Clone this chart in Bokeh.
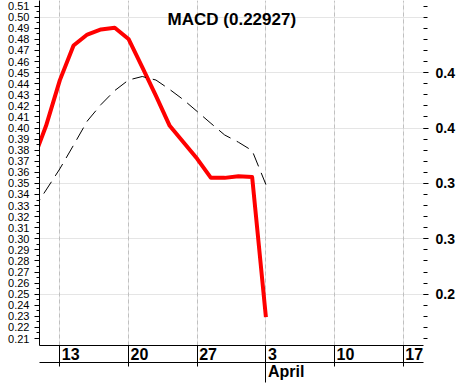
from bokeh.plotting import figure
from bokeh.models import Range1d, LinearAxis, FixedTicker, Grid, Label
from bokeh.embed import file_html
from bokeh.resources import INLINE

# ---- data ----
trading_days = ["Mar 9", "Mar 10", "Mar 13", "Mar 14", "Mar 15", "Mar 16", "Mar 17",
                "Mar 20", "Mar 21", "Mar 22", "Mar 23", "Mar 24", "Mar 27", "Mar 28",
                "Mar 29", "Mar 30", "Mar 31", "Apr 3"]
day_index = [-2, -1, 0, 1, 2, 3, 4, 5, 6, 7, 8, 9, 10, 11, 12, 13, 14, 15]
macd = [0.369, 0.402, 0.443, 0.4745, 0.4844, 0.489, 0.4905, 0.4804, 0.455, 0.429,
        0.402, 0.3872, 0.3722, 0.355, 0.355, 0.3565, 0.3557, 0.22927]
signal = [0.325, 0.344, 0.3631, 0.3845, 0.4063, 0.4212, 0.4338, 0.4433, 0.4465, 0.4433,
          0.4348, 0.4255, 0.4149, 0.4042, 0.3937, 0.3872, 0.3796, 0.349]
title_text = "MACD (0.22927)"

left_labels = ["0.21", "0.22", "0.23", "0.24", "0.25", "0.26", "0.27", "0.28", "0.29", "0.30",
               "0.31", "0.32", "0.33", "0.34", "0.35", "0.36", "0.37", "0.38", "0.39", "0.40",
               "0.41", "0.42", "0.43", "0.44", "0.45", "0.46", "0.47", "0.48", "0.49", "0.50",
               "0.51"]
right_values = [0.25, 0.30, 0.35, 0.40, 0.45]
right_labels = ["0.2", "0.3", "0.3", "0.4", "0.4"]
week_pos = [0, 5, 10, 15, 20, 25]
week_labels = ["13", "20", "27", "3", "10", "17"]
month_pos = [15]
month_labels = ["April"]

# ---- figure ----
PX_PER_DAY = 13.74
p = figure(frame_width=384, frame_height=345, output_backend="svg", toolbar_location=None,
           x_range=Range1d(-1.477, 26.47), y_range=Range1d(0.2037, 0.5151),
           x_axis_location=None, y_axis_location=None,
           min_border_left=39, min_border_right=38, min_border_top=0, min_border_bottom=40,
           outline_line_color=None, background_fill_color="white", border_fill_color="white")

FONT = "Liberation Sans"

# vertical dashed grid at week starts
p.add_layout(Grid(dimension=0, ticker=FixedTicker(ticks=week_pos),
                  grid_line_color="#c0c0c0", grid_line_dash="4 3", grid_line_width=1))

# left axis
left_vals = [float(s) for s in left_labels]
left_minor = [round(v + 0.005, 3) for v in left_vals[:-1]]
ly = LinearAxis(ticker=FixedTicker(ticks=left_vals, minor_ticks=left_minor),
                major_label_overrides={v: s for v, s in zip(left_vals, left_labels)},
                major_tick_out=5, major_tick_in=0, minor_tick_out=3, minor_tick_in=0,
                major_label_standoff=5, major_label_text_font=FONT,
                major_label_text_font_size="11px", major_label_text_color="black",
                axis_line_color="black", major_tick_line_color="black",
                minor_tick_line_color="black")
p.add_layout(ly, "left")

# right axis
ry = LinearAxis(ticker=FixedTicker(ticks=right_values, minor_ticks=left_vals),
                major_label_overrides={v: s for v, s in zip(right_values, right_labels)},
                major_tick_out=5, major_tick_in=0, minor_tick_out=4, minor_tick_in=0,
                major_label_standoff=7, major_label_text_font=FONT,
                major_label_text_font_style="bold",
                major_label_text_font_size="14px", major_label_text_color="black",
                axis_line_color=None, major_tick_line_color="black",
                minor_tick_line_color="black")
p.add_layout(ry, "right")

# bottom row 1: week day numbers, right of separator lines (separators = outward minor ticks)
CHAR_W = 8.9
week_centers = [pos + (2 + len(s) * CHAR_W / 2) / PX_PER_DAY for pos, s in zip(week_pos, week_labels)]
ax1 = LinearAxis(ticker=FixedTicker(ticks=week_centers, minor_ticks=week_pos),
                 major_label_overrides={c: s for c, s in zip(week_centers, week_labels)},
                 major_tick_out=0, major_tick_in=0, major_tick_line_color=None,
                 minor_tick_out=0, minor_tick_in=-21, minor_tick_line_color="black",
                 major_label_standoff=2, major_label_text_font=FONT,
                 major_label_text_font_style="bold", major_label_text_font_size="16px",
                 major_label_text_color="black", axis_line_color="black")
p.add_layout(ax1, "below")

# bottom row 2: month
month_centers = [pos + (2 + 36.4 / 2) / PX_PER_DAY for pos in month_pos]
ax2 = LinearAxis(ticker=FixedTicker(ticks=month_centers, minor_ticks=month_pos),
                 major_label_overrides={c: s for c, s in zip(month_centers, month_labels)},
                 major_tick_out=0, major_tick_in=0, major_tick_line_color=None,
                 minor_tick_out=0, minor_tick_in=-20, minor_tick_line_color="black",
                 major_label_standoff=0, major_label_text_font=FONT,
                 major_label_text_font_style="bold", major_label_text_font_size="16px",
                 major_label_text_color="black", axis_line_color="black")
p.add_layout(ax2, "below")

# series
p.line(day_index, macd, line_color="#ff0000", line_width=4, line_join="round")
p.line(day_index, signal, line_color="black", line_width=1, line_dash="14 7")

# title inside the plot
p.add_layout(Label(x=12.52, y=0.4977, text=title_text, text_font=FONT,
                   text_font_style="bold", text_font_size="17px", text_align="center",
                   text_baseline="alphabetic", text_color="black"))

open("out.html", "w").write(file_html(p, INLINE))
